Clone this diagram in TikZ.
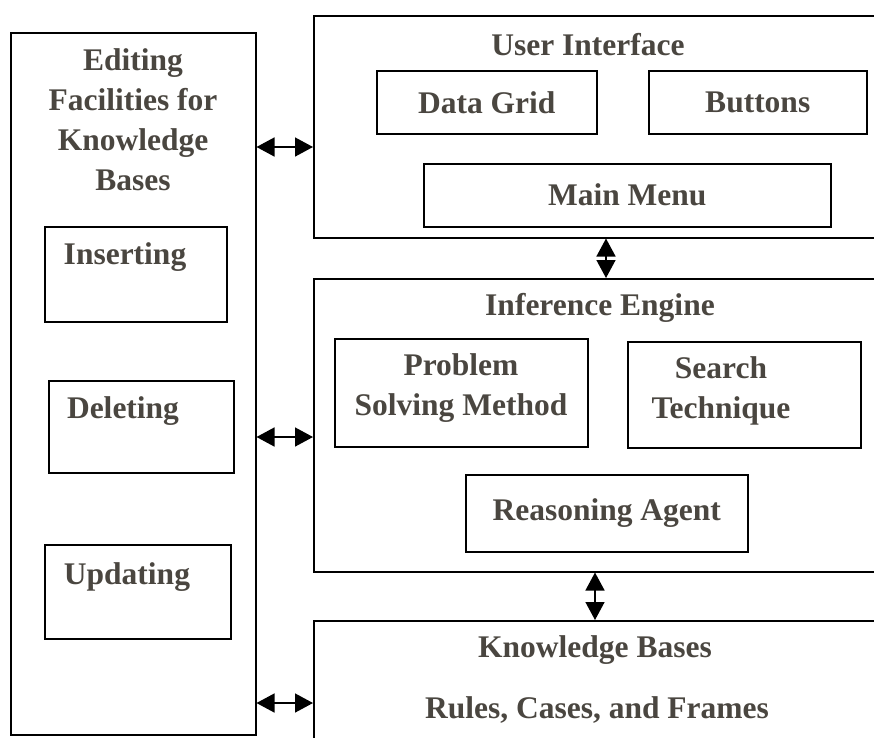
\documentclass[tikz,border=0pt]{standalone}
\usepackage{fontspec}
\setmainfont{Liberation Serif}
\usetikzlibrary{arrows.meta}
\definecolor{txt}{RGB}{74,70,64}
\begin{document}
\begin{tikzpicture}[x=1pt,y=-1pt,
  box/.style={draw=black,line width=1.5pt,anchor=north west,inner sep=0pt,rectangle},
  lbl/.style={font=\bfseries\fontsize{31.5}{40}\selectfont,text=txt,align=center,inner sep=0pt},
  conn/.style={{Triangle[length=18pt,width=19pt]}-{Triangle[length=18pt,width=19pt]},line width=1.5pt,black}]
\useasboundingbox (0,0) rectangle (874,737);
% outer boxes
\node[box,minimum width=245,minimum height=702] (left) at (10,32) {};
\node[box,minimum width=620,minimum height=222] (ui) at (313,15) {};
\node[box,minimum width=620,minimum height=293] (ie) at (313,278) {};
\node[box,minimum width=620,minimum height=200] (kb) at (313,620) {};
% inner boxes
\node[box,minimum width=220,minimum height=63] (grid) at (376,70) {};
\node[box,minimum width=218,minimum height=63] (buttons) at (648,70) {};
\node[box,minimum width=407,minimum height=63] (menu) at (423,163) {};
\node[box,minimum width=253,minimum height=108] (psm) at (334,338) {};
\node[box,minimum width=233,minimum height=106] (search) at (627,341) {};
\node[box,minimum width=282,minimum height=77] (reason) at (465,474) {};
\node[box,minimum width=182,minimum height=95] (ins) at (44,226) {};
\node[box,minimum width=185,minimum height=92] (del) at (48,380) {};
\node[box,minimum width=186,minimum height=94] (upd) at (44,544) {};
% labels
\node[lbl] (tleft) at (133,120) {Editing\\Facilities for\\Knowledge\\Bases};
\node[lbl] (tui) at (588,45) {User Interface};
\node[lbl] at (grid.center) {Data Grid};
\node[lbl] at (buttons.center) {Buttons};
\node[lbl] at (menu.center) {Main Menu};
\node[lbl] (tie) at (600,308) {Inference Engine};
\node[lbl] at (461,388) {Problem\\Solving Method};
\node[lbl] at (721,391) {Search\\Technique};
\node[lbl] at (reason.center) {Reasoning Agent};
\node[lbl] (tkb) at (595,650) {Knowledge Bases};
\node[lbl] (tkb2) at (597,710) {Rules, Cases, and Frames};
\node[lbl] at (125,257) {Inserting};
\node[lbl] at (123,411) {Deleting};
\node[lbl] at (127,577) {Updating};
% connectors
\coordinate (y1) at (0,147);
\coordinate (y2) at (0,437);
\coordinate (y3) at (0,703);
\coordinate (x1) at (606,0);
\coordinate (x2) at (595,0);
\draw[conn] (left.east |- y1) -- (ui.west |- y1);
\draw[conn] (left.east |- y2) -- (ie.west |- y2);
\draw[conn] (left.east |- y3) -- (kb.west |- y3);
\draw[conn] (ui.south -| x1) -- (ie.north -| x1);
\draw[conn] (ie.south -| x2) -- (kb.north -| x2);
\end{tikzpicture}
\end{document}
